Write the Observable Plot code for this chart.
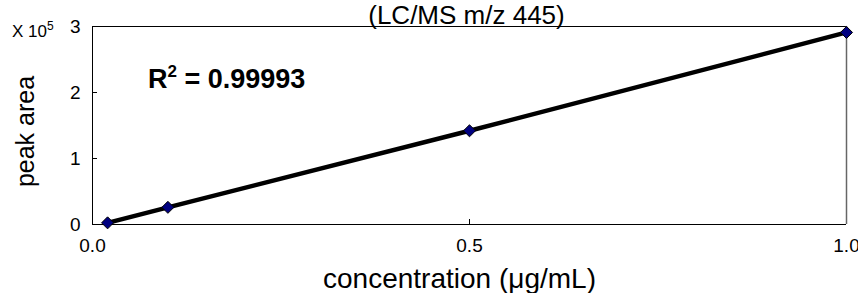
<!DOCTYPE html>
<html>
<head>
<meta charset="utf-8">
<script src="https://cdn.jsdelivr.net/npm/d3@7"></script>
<script src="https://cdn.jsdelivr.net/npm/@observablehq/plot@0.6"></script>
<style>
  html, body { margin: 0; padding: 0; background: #fff; }
  #wrap { position: relative; width: 858px; height: 293px; font-family: "Liberation Sans", Arial, sans-serif; }
  .ov { position: absolute; white-space: nowrap; color: #000; line-height: 1; }
  svg text { font-family: "Liberation Sans", Arial, sans-serif; }
</style>
</head>
<body>
<div id="wrap"></div>
<script>
// Data
const concentration = [0.02, 0.1, 0.5, 1.0];         // µg/mL
const peakArea = [0.025, 0.26, 1.42, 2.91];          // ×10^5
const xTicks = [0, 0.5, 1.0];
const xTickLabels = ["0.0", "0.5", "1.0"];
const yTicks = [0, 1, 2, 3];
const yTickLabels = ["0", "1", "2", "3"];
const title = "(LC/MS m/z 445)";
const xTitle = "concentration (\u03bcg/mL)";
const yTitle = "peak area";
const r2Text = "0.99993";

const data = concentration.map((c, i) => ({c, a: peakArea[i]}));

// wide diamond symbol (square rotated 45°)
const wideDiamond = {
  draw(context, size) {
    const h = Math.sqrt(size / 2);
    context.moveTo(0, -h);
    context.lineTo(h, 0);
    context.lineTo(0, h);
    context.lineTo(-h, 0);
    context.closePath();
  }
};

const plot = Plot.plot({
  width: 858,
  height: 293,
  marginLeft: 92,
  marginRight: 12,
  marginTop: 26,
  marginBottom: 69,
  style: {background: "transparent", overflow: "visible"},
  x: {domain: [0, 1]},
  y: {domain: [0, 3]},
  marks: [
    Plot.ruleY([3], {stroke: "#000", strokeWidth: 1}),
    Plot.ruleX([1], {stroke: "#666", strokeWidth: 1.5}),
    Plot.ruleX([0], {stroke: "#000", strokeWidth: 1}),
    Plot.ruleY([0], {stroke: "#000", strokeWidth: 1}),
    // inward ticks
    Plot.axisY({ticks: [1, 2], tickSize: -5, stroke: "#000", tickFormat: () => "", label: null}),
    Plot.axisX({ticks: [0.5], tickSize: -5, stroke: "#000", tickFormat: () => "", label: null}),
    // tick labels
    Plot.axisY({ticks: yTicks, tickSize: 0, tickPadding: 12, fontSize: 19, fill: "#000", label: null,
      tickFormat: (d) => yTickLabels[yTicks.indexOf(d)]}),
    Plot.axisX({ticks: xTicks, tickSize: 0, tickPadding: 14, fontSize: 19, fill: "#000", label: null,
      tickFormat: (d) => xTickLabels[xTicks.indexOf(d)]}),
    // titles
    Plot.text([xTitle], {frameAnchor: "bottom", textAnchor: "middle", lineAnchor: "middle",
      dx: -10, dy: 55, fontSize: 28, fill: "#000"}),
    Plot.text([yTitle], {frameAnchor: "left", textAnchor: "middle", lineAnchor: "middle",
      dx: -67, dy: 6, rotate: -90, fontSize: 25, fill: "#000"}),
    Plot.text([title], {frameAnchor: "top", textAnchor: "middle", lineAnchor: "middle",
      dx: -3, dy: -11, fontSize: 26, fill: "#000"}),
    Plot.line(data, {x: "c", y: "a", stroke: "#000", strokeWidth: 4.5, curve: "linear"}),
    Plot.dot(data, {x: "c", y: "a", symbol: wideDiamond, r: 4.8, fill: "#000080", stroke: "#000", strokeWidth: 1})
  ]
});
document.getElementById("wrap").appendChild(plot);

const wrap = document.getElementById("wrap");
function addText(html, css) {
  const d = document.createElement("div");
  d.className = "ov";
  d.innerHTML = html;
  Object.assign(d.style, css);
  wrap.appendChild(d);
}
addText('X 10<sup style="font-size:12px;vertical-align:7px">5</sup>', {left: "12px", top: "20px", fontSize: "17px"});
addText('R<sup style="font-size:17px;vertical-align:11px">2</sup>&nbsp;= ' + r2Text, {left: "148px", top: "63px", fontSize: "27px", fontWeight: "bold"});
</script>
</body>
</html>
